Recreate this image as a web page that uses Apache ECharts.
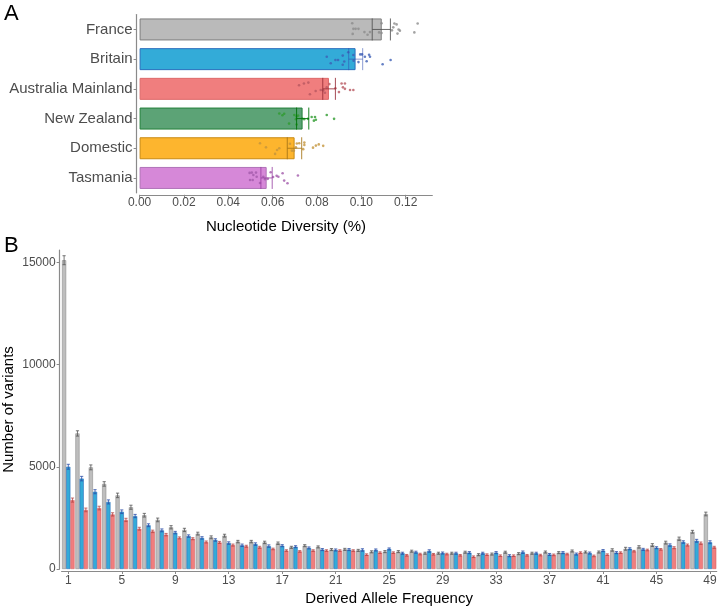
<!DOCTYPE html>
<html>
<head>
<meta charset="utf-8">
<script src="https://cdn.jsdelivr.net/npm/echarts@6/dist/echarts.min.js"></script>
<style>
  html, body { margin: 0; padding: 0; background: #fff; }
  #chart { width: 719px; height: 610px; }
</style>
</head>
<body>
<div id="chart"></div>
<script>
// ---- panel A: nucleotide diversity per population
const groups = ["France", "Britain", "Australia Mainland", "New Zealand", "Domestic", "Tasmania"];
const divMean = [0.1092, 0.0974, 0.0854, 0.0735, 0.0699, 0.0573];
const divLow = [0.1049, 0.0943, 0.0826, 0.0708, 0.0666, 0.0547];
const divHigh = [0.1131, 0.1006, 0.0883, 0.0763, 0.0731, 0.0598];
const divTicks = [0, 0.02, 0.04, 0.06, 0.08, 0.10, 0.12];

// individual samples: [diversity, vertical jitter (fraction of a band)]
const franceSamples = [[0.0959,-0.21],[0.0964,-0.02],[0.0974,-0.02],[0.0987,-0.02],[0.0961,0.15],[0.1014,0.09],[0.1028,0.18],[0.1039,0.09],[0.1091,-0.21],[0.1080,0.10],[0.1091,0.12],[0.1149,-0.20],[0.1159,-0.17],[0.1144,-0.07],[0.1138,0.03],[0.1168,0],[0.1174,0.04],[0.1163,0.14],[0.1254,-0.20],[0.1239,0.10]];
const britainSamples = [[0.0844,-0.08],[0.0862,0.14],[0.0883,0.03],[0.0895,0.03],[0.0916,-0.12],[0.0923,0.08],[0.0916,0.19],[0.0941,-0.23],[0.0964,-0.14],[0.0965,0.05],[0.0995,-0.16],[0.1003,-0.16],[0.0987,0.10],[0.1016,-0.08],[0.1035,-0.15],[0.1039,-0.08],[0.1024,0.07],[0.1096,0.17],[0.1132,0.03]];
const australiaSamples = [[0.0719,-0.12],[0.0741,-0.18],[0.0761,-0.21],[0.0768,0.18],[0.0794,0.07],[0.0817,0.04],[0.0828,0.05],[0.0836,0.13],[0.0844,-0.05],[0.0856,-0.16],[0.0883,-0.02],[0.0899,0.11],[0.0911,-0.18],[0.0926,-0.18],[0.0917,-0.05],[0.0926,0],[0.0949,0.04],[0.0964,0.04]];
const nzSamples = [[0.0630,-0.17],[0.0644,-0.11],[0.0652,-0.16],[0.0674,0.17],[0.0698,-0.12],[0.0708,-0.07],[0.0715,-0.10],[0.0705,0.02],[0.0708,0.20],[0.0733,0],[0.0742,0.02],[0.0759,0.01],[0.0776,-0.05],[0.0791,-0.05],[0.0786,0.07],[0.0795,0.04],[0.0844,-0.12],[0.0877,0.01]];
const domesticSamples = [[0.0543,-0.17],[0.0570,-0.03],[0.0630,0],[0.0620,0.06],[0.0611,0.19],[0.0678,-0.15],[0.0687,0.08],[0.0696,0.08],[0.0709,-0.16],[0.0720,-0.17],[0.0705,-0.03],[0.0743,-0.19],[0.0743,-0.11],[0.0738,0.03],[0.0782,-0.02],[0.0795,-0.09],[0.0808,-0.13],[0.0828,-0.08]];
const tasmaniaSamples = [[0.0496,-0.17],[0.0506,-0.18],[0.0513,-0.10],[0.0498,0.07],[0.0510,0.07],[0.0525,-0.18],[0.0528,-0.04],[0.0543,0.17],[0.0558,-0.04],[0.0566,0.04],[0.0578,0.03],[0.0591,-0.19],[0.0602,-0.03],[0.0618,-0.07],[0.0626,-0.04],[0.0645,-0.16],[0.0652,0.09],[0.0667,0.18],[0.0714,-0.08]];
const samplesByGroup = [franceSamples, britainSamples, australiaSamples, nzSamples, domesticSamples, tasmaniaSamples];

const fillColors = ["#bababa", "#33abd8", "#f07e7e", "#5ca376", "#fdb52e", "#d688d8"];
const edgeColors = ["#7d7d7d", "#2b6fbd", "#dd6a6a", "#23803a", "#c98a12", "#b072b8"];
const dotColors = ["#8c8c8c", "#3d5fb5", "#b85860", "#2e9b2e", "#c4953c", "#a35aab"];
const errColors = ["rgba(80,80,80,0.85)", "rgba(45,75,175,0.55)", "rgba(150,45,55,0.85)", "rgba(0,115,10,0.9)", "rgba(165,115,20,0.85)", "rgba(150,60,160,0.8)"];

// ---- panel B: derived allele frequency spectrum
const freqCats = ["1","2","3","4","5","6","7","8","9","10","11","12","13","14","15","16","17","18","19","20","21","22","23","24","25","26","27","28","29","30","31","32","33","34","35","36","37","38","39","40","41","42","43","44","45","46","47","48","49"];
const franceSfs = [15100,6630,4970,4160,3600,3020,2630,2400,2040,1910,1730,1550,1630,1340,1340,1300,1260,1060,1140,1080,950,960,910,840,850,850,870,770,770,770,820,700,730,820,750,770,830,800,880,830,830,930,990,1080,1170,1290,1480,1820,2690];
const britainSfs = [5000,4420,3780,3280,2800,2590,2140,1890,1780,1610,1520,1420,1270,1160,1220,1120,1140,1090,1030,950,930,950,930,930,980,770,820,880,780,770,800,770,800,650,820,770,710,800,730,780,900,800,990,960,1040,1170,1320,1380,1310];
const australiaSfs = [3370,2890,2980,2670,2400,1970,1840,1680,1520,1480,1320,1300,1170,1110,1060,980,900,860,900,900,900,900,700,800,800,670,730,720,730,670,600,700,650,650,670,680,690,730,800,640,700,800,870,930,960,1040,1170,1260,1060];
const franceSfsErr = [220,130,120,110,110,100,90,90,80,80,70,70,70,60,60,60,60,50,50,50,50,50,50,50,50,50,50,50,50,50,50,50,50,50,50,50,50,50,50,50,50,60,70,60,70,70,80,70,90];
const britainSfsErr = [120,110,100,100,90,80,70,70,60,60,60,60,60,60,60,60,50,50,50,50,50,50,60,50,50,50,50,60,50,50,50,50,50,50,60,50,50,50,50,50,50,50,50,50,50,60,60,70,70];
const australiaSfsErr = [100,90,90,80,80,70,60,60,50,50,50,50,50,50,50,40,40,40,40,40,40,40,40,40,40,40,40,40,40,40,40,40,40,40,40,40,40,40,40,40,40,40,40,40,40,50,50,60,50];
const sfsTicks = [0, 5000, 10000, 15000];

const sfsSeries = [
  { name: "France", data: franceSfs, err: franceSfsErr, fill: "#bebebe", edge: "#8f8f8f", ecol: "#555555" },
  { name: "Britain", data: britainSfs, err: britainSfsErr, fill: "#33abd8", edge: "#2a6dbc", ecol: "#2a4ea8" },
  { name: "Australia Mainland", data: australiaSfs, err: australiaSfsErr, fill: "#f07e7e", edge: "#d86464", ecol: "#b84848" }
];

const FONT = "'Liberation Sans', Arial, Helvetica, sans-serif";
const axisGrey = "#8a8a8a";
const labelGrey = "#4d4d4d";

const chart = echarts.init(document.getElementById("chart"), null, { renderer: "canvas" });

const series = [];

// bars A
series.push({
  type: "bar",
  xAxisIndex: 0,
  yAxisIndex: 0,
  barWidth: 22,
  data: divMean.map((v, i) => ({
    value: v,
    itemStyle: { color: fillColors[i], borderColor: edgeColors[i], borderWidth: 1 }
  })),
  z: 1
});

// jittered samples A
samplesByGroup.forEach((pts, gi) => {
  series.push({
    type: "scatter",
    xAxisIndex: 0,
    yAxisIndex: 1,
    symbolSize: 2.6,
    itemStyle: { color: dotColors[gi], opacity: 0.8 },
    data: pts.map(p => [p[0], gi + p[1]]),
    z: 3
  });
});

// error bars A
series.push({
  type: "custom",
  xAxisIndex: 0,
  yAxisIndex: 0,
  encode: { x: [0, 1], y: 2 },
  data: groups.map((g, i) => [divLow[i], divHigh[i], i]),
  renderItem: function (params, api) {
    const i = params.dataIndex;
    const p1 = api.coord([divLow[i], i]);
    const p2 = api.coord([divHigh[i], i]);
    const h = 11;
    const st = { stroke: errColors[i], lineWidth: 1 };
    return {
      type: "group",
      children: [
        { type: "line", shape: { x1: p1[0], y1: p1[1], x2: p2[0], y2: p2[1] }, style: st },
        { type: "line", shape: { x1: p1[0], y1: p1[1] - h, x2: p1[0], y2: p1[1] + h }, style: st },
        { type: "line", shape: { x1: p2[0], y1: p2[1] - h, x2: p2[0], y2: p2[1] + h }, style: st }
      ]
    };
  },
  z: 4
});

// bars B + error bars B
sfsSeries.forEach((s) => {
  series.push({
    name: s.name,
    type: "bar",
    xAxisIndex: 1,
    yAxisIndex: 2,
    barGap: "0%",
    barCategoryGap: "6%",
    itemStyle: { color: s.fill, borderColor: s.edge, borderWidth: 0.6 },
    data: s.data,
    z: 1
  });
});
sfsSeries.forEach((s, k) => {
  series.push({
    type: "custom",
    xAxisIndex: 1,
    yAxisIndex: 2,
    encode: { x: 0, y: [1, 2] },
    data: s.data.map((v, i) => [i, v - s.err[i], v + s.err[i]]),
    renderItem: function (params, api) {
      const i = params.dataIndex;
      const lo = api.coord([i, s.data[i] - s.err[i]]);
      const hi = api.coord([i, s.data[i] + s.err[i]]);
      const band = api.size([1, 0])[0];
      const bw = band * 0.94 / 3;
      const x = lo[0] + (k - 1) * bw;
      const c = 1.6;
      const st = { stroke: s.ecol, lineWidth: 0.8 };
      return {
        type: "group",
        children: [
          { type: "line", shape: { x1: x, y1: lo[1], x2: x, y2: hi[1] }, style: st },
          { type: "line", shape: { x1: x - c, y1: lo[1], x2: x + c, y2: lo[1] }, style: st },
          { type: "line", shape: { x1: x - c, y1: hi[1], x2: x + c, y2: hi[1] }, style: st }
        ]
      };
    },
    z: 4
  });
});

const option = {
  animation: false,
  backgroundColor: "#ffffff",
  textStyle: { fontFamily: FONT },
  title: [
    { text: "A", left: 4, top: 3, padding: 0, textStyle: { fontSize: 22, fontWeight: "normal", color: "#000", fontFamily: FONT } },
    { text: "B", left: 4, top: 235, padding: 0, textStyle: { fontSize: 22, fontWeight: "normal", color: "#000", fontFamily: FONT } }
  ],
  grid: [
    { left: 139.6, right: 286.7, top: 14.6, height: 178.2, outerBoundsMode: "none", containLabel: false },
    { left: 61.6, right: 2.3, top: 250, bottom: 41, outerBoundsMode: "none", containLabel: false }
  ],
  xAxis: [
    {
      type: "value",
      gridIndex: 0,
      min: 0,
      max: 0.132,
      offset: 2,
      splitLine: { show: false },
      axisLine: { show: true, onZero: false, lineStyle: { color: axisGrey, width: 1.2 } },
      axisTick: { show: true, length: 3, customValues: divTicks, lineStyle: { color: axisGrey } },
      axisLabel: {
        fontSize: 12, color: labelGrey, margin: 2, fontFamily: FONT,
        customValues: divTicks,
        formatter: v => v.toFixed(2)
      },
      name: "Nucleotide Diversity (%)",
      nameLocation: "middle",
      nameGap: 25,
      nameMoveOverlap: false,
      nameTextStyle: { fontSize: 15, color: "#000", fontFamily: FONT }
    },
    {
      type: "category",
      gridIndex: 1,
      data: freqCats,
      offset: 2,
      axisLine: { show: true, onZero: false, lineStyle: { color: axisGrey, width: 1.2 } },
      axisTick: { show: true, alignWithLabel: true, length: 3, interval: i => i % 4 === 0, lineStyle: { color: axisGrey } },
      axisLabel: { fontSize: 12, color: labelGrey, margin: 4, interval: i => i % 4 === 0, fontFamily: FONT },
      name: "Derived Allele Frequency",
      nameLocation: "middle",
      nameGap: 20,
      nameMoveOverlap: false,
      nameTextStyle: { fontSize: 15, color: "#000", fontFamily: FONT }
    }
  ],
  yAxis: [
    {
      type: "category",
      gridIndex: 0,
      data: groups,
      inverse: true,
      offset: 3,
      axisLine: { show: true, onZero: false, lineStyle: { color: axisGrey, width: 1.2 } },
      axisTick: { show: true, alignWithLabel: true, length: 3, lineStyle: { color: axisGrey } },
      axisLabel: { fontSize: 15, color: labelGrey, margin: 4, fontFamily: FONT }
    },
    {
      type: "value",
      gridIndex: 0,
      min: -0.5,
      max: 5.5,
      inverse: true,
      show: false
    },
    {
      type: "value",
      gridIndex: 1,
      min: 0,
      max: 15600,
      offset: 2,
      splitLine: { show: false },
      axisLine: { show: true, onZero: false, lineStyle: { color: axisGrey, width: 1.2 } },
      axisTick: { show: true, length: 3, customValues: sfsTicks, lineStyle: { color: axisGrey } },
      axisLabel: {
        fontSize: 12, color: labelGrey, margin: 4, fontFamily: FONT,
        customValues: sfsTicks,
        formatter: v => String(v)
      },
      name: "Number of variants",
      nameLocation: "middle",
      nameRotate: 90,
      nameGap: 43,
      nameMoveOverlap: false,
      nameTextStyle: { fontSize: 15, color: "#000", fontFamily: FONT }
    }
  ],
  series: series
};

chart.setOption(option);
</script>
</body>
</html>
